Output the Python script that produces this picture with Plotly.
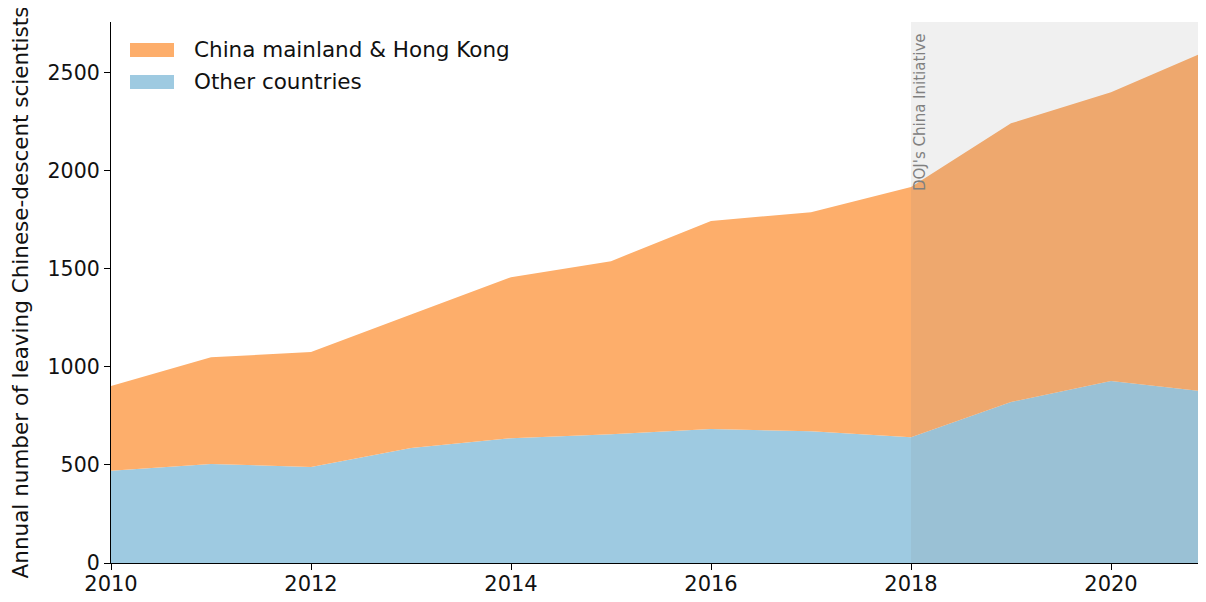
import plotly.graph_objects as go

years = [2010, 2011, 2012, 2013, 2014, 2015, 2016, 2017, 2018, 2019, 2020, 2021]
other_countries = [470, 505, 490, 587, 637, 657, 683, 672, 642, 821, 929, 872]
total = [903, 1050, 1076, 1268, 1458, 1540, 1745, 1790, 1918, 2243, 2402, 2622]
china_hk = [t - o for t, o in zip(total, other_countries)]

series_names = ["China mainland & Hong Kong", "Other countries"]
series_colors = ["#fdae6b", "#9ecae1"]

fig = go.Figure()
fig.add_trace(go.Scatter(
    x=years, y=other_countries, name=series_names[1], stackgroup="one",
    mode="none", fillcolor=series_colors[1], line=dict(width=0)))
fig.add_trace(go.Scatter(
    x=years, y=china_hk, name=series_names[0], stackgroup="one",
    mode="none", fillcolor=series_colors[0], line=dict(width=0)))

fig.add_shape(type="rect", xref="x", yref="paper", x0=2018, x1=2021, y0=0, y1=1,
              fillcolor="rgba(128,128,128,0.12)", line=dict(width=0), layer="above")
fig.add_annotation(x=2018, y=1, xref="x", yref="paper", text="DOJ's China Initiative",
                   textangle=-90, showarrow=False, xanchor="left", yanchor="top",
                   xshift=-2, yshift=-9,
                   font=dict(family="DejaVu Sans", size=15, color="#808080"))

# custom legend (matplotlib-style patches)
plot_h = 541.0
plot_w = 1087.0
for i, (nm, col) in enumerate(zip(series_names, series_colors)):
    cy = 50 + 32 * i - 22  # pixel from plot top
    fig.add_shape(type="rect", xref="paper", yref="paper",
                  x0=19 / plot_w, x1=63 / plot_w,
                  y0=1 - (cy + 7) / plot_h, y1=1 - (cy - 7) / plot_h,
                  fillcolor=col, line=dict(width=0), layer="above")
    fig.add_annotation(xref="paper", yref="paper", x=81 / plot_w, y=1 - cy / plot_h,
                       text=nm, showarrow=False, xanchor="left", yanchor="middle",
                       font=dict(family="DejaVu Sans", size=21.5, color="#111"))

fig.update_layout(
    width=1190, height=586,
    margin=dict(l=103, r=0, t=14, b=31, autoexpand=False),
    plot_bgcolor="white", paper_bgcolor="white",
    font=dict(family="DejaVu Sans", size=21, color="#111"),
    showlegend=False,
    xaxis=dict(range=[2010, 2020.87], tickvals=[2010, 2012, 2014, 2016, 2018, 2020],
               showline=True, linecolor="black", linewidth=1.3, ticks="outside",
               ticklen=6, tickcolor="black", showgrid=False, zeroline=False,
               automargin=False, tickfont=dict(size=21), ticklabelstandoff=-4),
    yaxis=dict(range=[0, 2760], tickvals=[0, 500, 1000, 1500, 2000, 2500],
               showline=True, linecolor="black", linewidth=1.3, ticks="outside",
               ticklen=6, tickcolor="black", showgrid=False, zeroline=False,
               automargin=False, tickfont=dict(size=20.5),
               title=dict(text="Annual number of leaving Chinese-descent scientists",
                          font=dict(size=21.5), standoff=16)),
)

fig.write_html("out.html")
